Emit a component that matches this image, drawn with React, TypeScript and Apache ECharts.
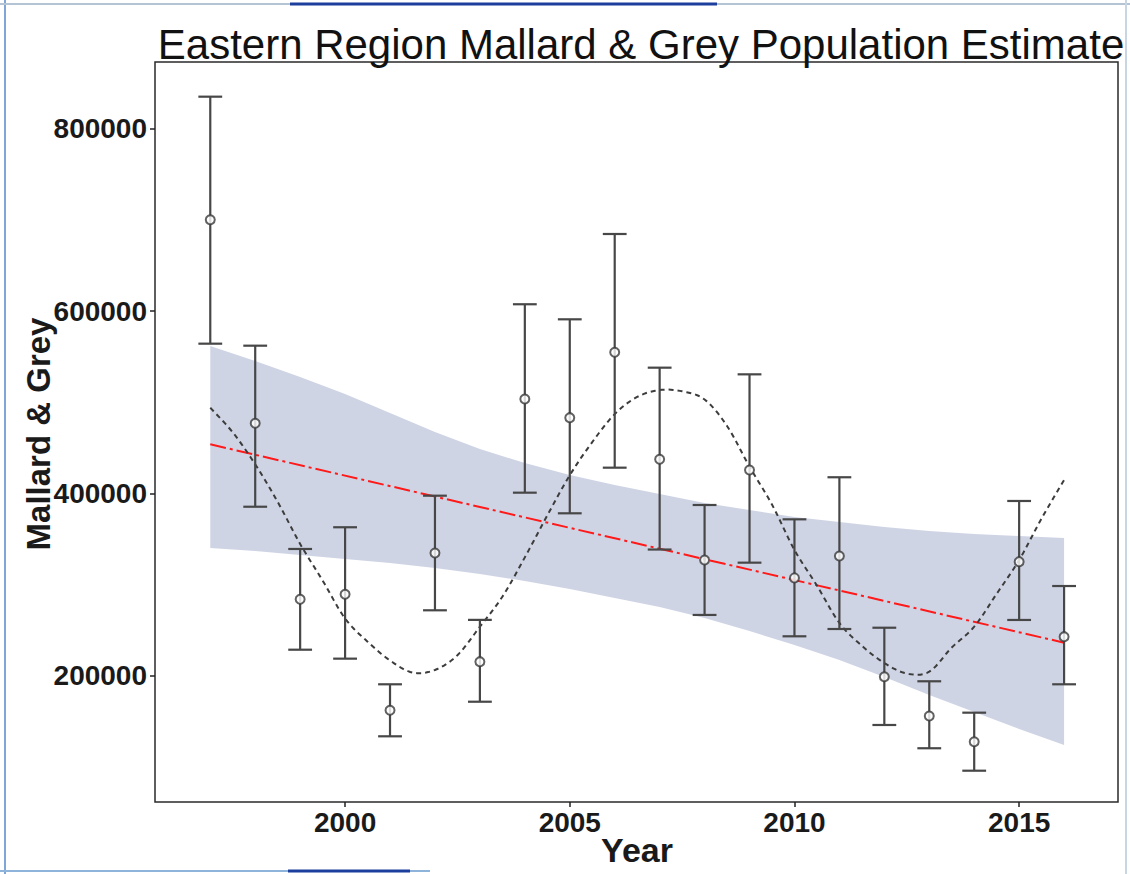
import React, { useEffect, useRef } from "react";
import * as echarts from "echarts";

// ---- Data ----
const years = [1997, 1998, 1999, 2000, 2001, 2002, 2003, 2004, 2005, 2006, 2007, 2008, 2009, 2010, 2011, 2012, 2013, 2014, 2015, 2016];
const estimates = [700000, 477000, 284000, 289500, 162400, 334800, 215700, 503600, 483100, 554800, 437500, 327100, 425800, 307500, 331500, 199200, 156200, 128000, 325300, 243100];
const lowerCI = [564200, 385500, 228800, 219000, 133900, 272000, 171800, 400900, 378300, 428300, 338600, 266900, 324200, 243500, 251500, 146300, 120800, 96200, 261400, 190900];
const upperCI = [834900, 562000, 339200, 363000, 190900, 397600, 261500, 607400, 590900, 684400, 537900, 387400, 530600, 371700, 417800, 252900, 194200, 159800, 391800, 298600];

// dashed smoother, read every half year
const smoothYears = [1997, 1997.5, 1998, 1998.5, 1999, 1999.5, 2000, 2000.5, 2001, 2001.5, 2002, 2002.5, 2003, 2003.5, 2004, 2004.5, 2005, 2005.5, 2006, 2006.5, 2007, 2007.5, 2008, 2008.5, 2009, 2009.5, 2010, 2010.5, 2011, 2011.5, 2012, 2012.5, 2013, 2013.5, 2014, 2014.5, 2015, 2015.5, 2016];
const smoothValues = [494000, 467000, 432000, 390800, 344700, 304600, 263000, 237600, 217000, 203800, 206600, 222800, 254000, 286900, 330000, 376000, 420000, 456300, 487000, 505800, 513400, 512000, 503000, 474000, 429400, 387900, 338100, 299100, 258100, 233100, 214200, 202700, 204700, 231200, 254000, 290100, 327100, 372700, 414800];

const trendYears = [1997, 2016];
const trendValues = [453900, 236500];

const bandYears = years;
const bandUpper = [561650, 545210, 527670, 509050, 488220, 467400, 448770, 433430, 420280, 409320, 399450, 389590, 381920, 374250, 368770, 363290, 358910, 355620, 353430, 351240];
const bandLower = [340280, 337000, 332600, 328220, 323840, 318360, 311780, 304110, 295340, 285480, 275620, 263560, 249310, 233970, 217530, 198900, 179180, 160550, 141920, 124380];

const xTickValues = [2000, 2005, 2010, 2015];
const yTickValues = [200000, 400000, 600000, 800000];

const titleText = "Eastern Region Mallard & Grey Population Estimate";
const xName = "Year";
const yName = "Mallard & Grey";

const FONT = '"Liberation Sans", Arial, Helvetica, sans-serif';

// Catmull-Rom sampling of screen points (drawing only)
function splinePoints(pts: number[][], steps: number): number[][] {
  const out: number[][] = [];
  const n = pts.length;
  for (let i = 0; i < n - 1; i++) {
    const p0 = pts[Math.max(0, i - 1)];
    const p1 = pts[i];
    const p2 = pts[i + 1];
    const p3 = pts[Math.min(n - 1, i + 2)];
    for (let s = 0; s < steps; s++) {
      const t = s / steps;
      const t2 = t * t;
      const t3 = t2 * t;
      const f = (a: number, b: number, c: number, d: number) =>
        0.5 * (2 * b + (-a + c) * t + (2 * a - 5 * b + 4 * c - d) * t2 + (-a + 3 * b - 3 * c + d) * t3);
      out.push([f(p0[0], p1[0], p2[0], p3[0]), f(p0[1], p1[1], p2[1], p3[1])]);
    }
  }
  out.push(pts[n - 1]);
  return out;
}

export default function App() {
  const ref = useRef<HTMLDivElement>(null);

  useEffect(() => {
    document.body.style.margin = "0";
    if (!ref.current) return;
    const chart = echarts.init(ref.current, undefined, { renderer: "svg" });

    const capHalf = 0.265;

    const option: any = {
      animation: false,
      backgroundColor: "#ffffff",
      title: {
        text: titleText,
        left: 636,
        textAlign: "center",
        top: 18,
        textStyle: { fontSize: 42, fontWeight: "normal", color: "#111", fontFamily: FONT },
      },
      grid: {
        left: 155,
        top: 62,
        right: 12,
        bottom: 72,
        show: true,
        borderColor: "#2a2a2a",
        borderWidth: 1.5,
        backgroundColor: "transparent",
      },
      xAxis: {
        type: "value",
        min: 1995.77,
        max: 2017.2,
        axisLine: { show: false },
        splitLine: { show: false },
        axisTick: { show: true, length: 5, lineStyle: { color: "#222", width: 1.5 }, customValues: xTickValues },
        axisLabel: {
          customValues: xTickValues,
          formatter: (v: number) => String(v),
          margin: 6,
          fontSize: 28,
          fontWeight: "bold",
          color: "#1a1a1a",
          fontFamily: FONT,
        },
      },
      yAxis: {
        type: "value",
        min: 61900,
        max: 872900,
        axisLine: { show: false },
        splitLine: { show: false },
        axisTick: { show: true, length: 5, lineStyle: { color: "#222", width: 1.5 }, customValues: yTickValues },
        axisLabel: {
          customValues: yTickValues,
          formatter: (v: number) => String(v),
          margin: 8,
          fontSize: 28,
          fontWeight: "bold",
          color: "#1a1a1a",
          fontFamily: FONT,
        },
      },
      graphic: [
        { type: "line", shape: { x1: 5, y1: 0, x2: 5, y2: 874 }, style: { stroke: "#7fa6d6", lineWidth: 2 } },
        { type: "line", shape: { x1: 0, y1: 4, x2: 1130, y2: 4 }, style: { stroke: "#b4c4d4", lineWidth: 2 } },
        { type: "line", shape: { x1: 290, y1: 4, x2: 717, y2: 4 }, style: { stroke: "#1c3f9e", lineWidth: 3 } },
        { type: "line", shape: { x1: 0, y1: 871, x2: 430, y2: 871 }, style: { stroke: "#8fb4dc", lineWidth: 2 } },
        { type: "line", shape: { x1: 288, y1: 871, x2: 410, y2: 871 }, style: { stroke: "#1c3f9e", lineWidth: 3 } },
        { type: "line", shape: { x1: 1126, y1: 0, x2: 1126, y2: 874 }, style: { stroke: "#c8d6e4", lineWidth: 2 } },
        {
          type: "text",
          x: 38,
          y: 434,
          rotation: Math.PI / 2,
          style: { text: yName, textAlign: "center", textVerticalAlign: "middle", font: `bold 33px ${FONT}`, fill: "#1a1a1a" },
        },
        {
          type: "text",
          x: 637,
          y: 850,
          style: { text: xName, textAlign: "center", textVerticalAlign: "middle", font: `bold 34px ${FONT}`, fill: "#1a1a1a" },
        },
      ],
      series: [
        {
          type: "custom",
          name: "band",
          z: 1,
          silent: true,
          data: bandYears.map((y, i) => [y, bandLower[i], bandUpper[i]]),
          encode: { x: 0, y: [1, 2] },
          renderItem: (params: any, api: any) => {
            if (params.dataIndex !== 0) return { type: "group", children: [] };
            const pts: number[][] = [];
            for (let i = 0; i < bandYears.length; i++) pts.push(api.coord([bandYears[i], bandUpper[i]]));
            for (let i = bandYears.length - 1; i >= 0; i--) pts.push(api.coord([bandYears[i], bandLower[i]]));
            return { type: "polygon", shape: { points: pts }, style: { fill: "#cfd4e5" } };
          },
        },
        {
          type: "line",
          name: "trend",
          z: 3,
          data: trendYears.map((y, i) => [y, trendValues[i]]),
          symbol: "none",
          lineStyle: { color: "#ff1a1a", width: 2, type: [16, 4, 3, 4] },
        },
        {
          type: "custom",
          name: "smooth",
          z: 4,
          silent: true,
          data: smoothYears.map((y, i) => [y, smoothValues[i]]),
          encode: { x: 0, y: 1 },
          renderItem: (params: any, api: any) => {
            if (params.dataIndex !== 0) return { type: "group", children: [] };
            const pts = smoothYears.map((y, i) => api.coord([y, smoothValues[i]]));
            return {
              type: "polyline",
              shape: { points: splinePoints(pts, 10) },
              style: { stroke: "#3c3c3c", fill: null, lineWidth: 2, lineDash: [5, 4] },
            };
          },
        },
        {
          type: "custom",
          name: "errorbars",
          z: 5,
          data: years.map((y, i) => [y, lowerCI[i], upperCI[i]]),
          encode: { x: 0, y: [1, 2] },
          renderItem: (params: any, api: any) => {
            const x = api.value(0);
            const lo = api.value(1);
            const hi = api.value(2);
            const pHi = api.coord([x, hi]);
            const pLo = api.coord([x, lo]);
            const hw = api.size([capHalf, 0])[0];
            const st = { stroke: "#474747", lineWidth: 2.2 };
            return {
              type: "group",
              children: [
                { type: "line", shape: { x1: pHi[0], y1: pHi[1], x2: pLo[0], y2: pLo[1] }, style: st },
                { type: "line", shape: { x1: pHi[0] - hw, y1: pHi[1], x2: pHi[0] + hw, y2: pHi[1] }, style: st },
                { type: "line", shape: { x1: pLo[0] - hw, y1: pLo[1], x2: pLo[0] + hw, y2: pLo[1] }, style: st },
              ],
            };
          },
        },
        {
          type: "scatter",
          name: "estimate",
          z: 6,
          data: years.map((y, i) => [y, estimates[i]]),
          symbol: "circle",
          symbolSize: 9,
          itemStyle: { color: "#ffffff", borderColor: "#3a3a3a", borderWidth: 2 },
        },
      ],
    };

    chart.setOption(option);
    return () => chart.dispose();
  }, []);

  return <div ref={ref} style={{ width: 1130, height: 874 }} />;
}
